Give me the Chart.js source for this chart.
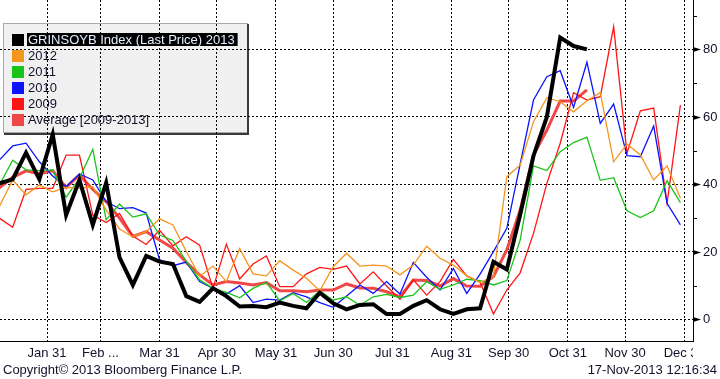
<!DOCTYPE html>
<html><head><meta charset="utf-8">
<script src="https://cdn.jsdelivr.net/npm/chart.js@4.4.0/dist/chart.umd.min.js"></script>
<style>html,body{margin:0;padding:0;background:#fff;overflow:hidden}canvas{display:block}</style>
</head><body>
<canvas id="c" width="720" height="379" style="width:720px;height:379px"></canvas>
<script>
// Weekly observation dates (2013 calendar, MM-DD)
const weekDates = ['01-06','01-13','01-20','01-27','02-03','02-10','02-17','02-24','03-03','03-10','03-17','03-24','03-31','04-07','04-14','04-21','04-28','05-05','05-12','05-19','05-26','06-02','06-09','06-16','06-23','06-30','07-07','07-14','07-21','07-28','08-04','08-11','08-18','08-25','09-01','09-08','09-15','09-22','09-29','10-06','10-13','10-20','10-27','11-03','11-10','11-17','11-24','12-01','12-08','12-15','12-22','12-29'];

const s2013 = [40.3,41.5,49.4,41.5,54.8,30.9,41.3,28.0,40.5,18.4,10.2,18.8,17.1,16.4,6.9,5.2,9.2,6.9,3.8,4.0,3.6,5.0,4.0,3.3,7.9,4.8,3.0,4.3,4.5,1.6,1.6,4.0,5.7,3.0,1.6,3.0,3.3,17.1,14.8,31.0,48.5,60.0,83.5,81.0,80.0];
const s2012 = [33.4,41.3,36.9,39.8,37.8,39.1,38.8,39.3,32.4,26.8,24.5,26.0,29.8,28.0,20.1,12.8,15.8,11.2,21.0,13.5,12.9,17.4,14.6,12.2,8.5,15.6,19.6,15.8,16.1,15.8,13.2,16.1,21.7,18.1,16.1,12.9,11.0,12.7,42.3,45.7,58.6,65.7,64.5,61.5,64.8,67.2,46.7,52.0,48.7,41.3,45.5,35.9];
const s2011 = [39.8,47.2,44.3,44.1,44.3,36.2,41.8,50.4,29.5,34.2,30.3,31.3,25.0,23.4,17.2,11.7,9.2,8.0,6.4,9.2,11.0,5.5,7.7,5.0,8.5,5.7,6.7,4.2,6.7,7.4,6.5,7.2,11.2,8.9,10.2,11.9,11.5,10.2,11.5,23.5,45.5,44.1,49.7,52.4,54.0,41.2,42.0,32.2,30.2,32.2,41.1,34.6];
const s2010 = [47.2,51.4,52.2,46.7,42.5,39.3,43.1,41.3,34.9,32.8,33.1,31.5,17.7,15.9,17.0,11.2,9.2,7.5,10.0,5.0,6.0,5.7,7.9,6.7,5.0,3.6,6.9,10.2,7.7,11.2,7.5,16.9,12.5,8.7,15.1,7.7,13.4,20.1,27.0,46.0,65.0,71.9,73.7,62.8,76.2,58.1,63.8,48.5,48.2,57.3,34.4,28.0];
const s2009 = [30.0,27.3,38.5,38.8,38.8,48.7,48.7,30.9,28.7,31.4,24.7,22.2,26.4,21.8,24.5,22.0,9.2,22.3,12.0,16.4,18.8,9.7,9.7,13.5,15.4,14.8,15.8,10.5,14.1,9.9,6.0,11.7,7.2,11.2,17.8,12.9,11.0,1.6,8.7,13.8,25.5,40.3,52.2,67.2,65.0,66.0,86.7,49.2,61.8,62.6,34.4,63.5];
const sAvg  = [39.0,42.1,44.0,43.1,44.1,39.1,42.8,38.5,34.9,30.0,24.6,26.0,23.5,21.1,16.9,13.2,10.2,11.2,10.8,10.2,10.9,8.5,8.5,8.2,8.7,8.7,10.5,9.3,9.2,8.2,6.7,11.7,11.5,9.9,12.1,9.9,9.8,12.7,20.6,32.4,48.7,56.1,64.7,64.7,68.0];

const seriesLabels = ['GRINSOYB Index (Last Price) 2013','2012','2011','2010','2009','Average [2009-2013]'];

// Axis ticks
const monthEndDates = ['01-31','02-28','03-31','04-30','05-31','06-30','07-31','08-31','09-30','10-31','11-30','12-31'];
const monthLabels = ['Jan 31','Feb ...','Mar 31','Apr 30','May 31','Jun 30','Jul 31','Aug 31','Sep 30','Oct 31','Nov 30','Dec 31'];
const yMajorTicks = [0,20,40,60,80];
const yMinorTicks = [10,30,50,70,90];

const footerLeft = 'Copyright\u00A9 2013 Bloomberg Finance L.P.';
const footerRight = '17-Nov-2013 12:16:34';

function dayOfYear(md){
  const [m,d] = md.split('-').map(Number);
  return (Date.UTC(2013,m-1,d) - Date.UTC(2013,0,0)) / 86400000;
}
const weekDays = weekDates.map(dayOfYear);
const monthEndDays = monthEndDates.map(dayOfYear);
const pts = arr => arr.map((v,i)=>({x: weekDays[i], y: v}));

const FONT = '13px "Liberation Sans", Arial, sans-serif';
const TXT = '#12122a';

const bbPlugin = {
  id: 'bb',
  beforeDraw(chart){
    const ctx = chart.ctx;
    ctx.save();
    ctx.fillStyle = '#ffffff';
    ctx.fillRect(0,0,chart.width,chart.height);
    // legend box background (grid is drawn over it)
    ctx.fillStyle = '#f0f0f0';
    ctx.fillRect(3,23,245,110);
    ctx.strokeStyle = '#a8a8a8'; ctx.lineWidth = 1;
    ctx.strokeRect(3.5,23.5,244,109);
    ctx.strokeStyle = '#3a3a3a'; ctx.lineWidth = 2;
    ctx.beginPath(); ctx.moveTo(248,24); ctx.lineTo(248,134); ctx.lineTo(4,134); ctx.stroke();
    ctx.restore();
  },
  afterDraw(chart){
    const ctx = chart.ctx;
    const ca = chart.chartArea;
    const xs = chart.scales.x, ys = chart.scales.y;
    ctx.save();
    ctx.font = FONT;
    ctx.textBaseline = 'middle';
    // legend entries
    chart.data.datasets.forEach((ds,k)=>{
      const cy = 39.5 + k*16.1;
      ctx.fillStyle = ds.legendColor || ds.borderColor;
      ctx.fillRect(12, Math.round(cy-6), 12, 12);
      if (k === 0){
        const w = ctx.measureText(ds.label).width;
        ctx.fillStyle = '#000';
        ctx.fillRect(27, Math.round(cy-6.5), w+4, 13);
        ctx.fillStyle = '#e4eeff';
      } else {
        ctx.fillStyle = TXT;
      }
      ctx.textAlign = 'left';
      ctx.fillText(ds.label, 28, cy+0.5);
    });
    // y axis markers and labels
    const ax = ca.right;
    ctx.fillStyle = '#000';
    yMajorTicks.forEach(v=>{
      const y = Math.round(ys.getPixelForValue(v)) + 0.5;
      ctx.beginPath();
      ctx.moveTo(ax, y-2.5); ctx.lineTo(ax+8, y); ctx.lineTo(ax, y+2.5); ctx.closePath();
      ctx.fill();
    });
    ctx.strokeStyle = '#000'; ctx.lineWidth = 1;
    yMinorTicks.forEach(v=>{
      const y = Math.round(ys.getPixelForValue(v)) + 0.5;
      ctx.beginPath(); ctx.moveTo(ax, y); ctx.lineTo(ax+4, y); ctx.stroke();
    });
    ctx.fillStyle = TXT;
    ctx.textAlign = 'left';
    yMajorTicks.forEach(v=>{
      ctx.fillText(String(v), ax+10, ys.getPixelForValue(v)+0.5);
    });
    // x labels, clipped at the plot's right edge
    ctx.save();
    ctx.beginPath(); ctx.rect(0, ca.bottom+1, ca.right, 24); ctx.clip();
    ctx.textAlign = 'center';
    monthEndDays.forEach((d,i)=>{
      ctx.fillText(monthLabels[i], xs.getPixelForValue(d), 353);
    });
    ctx.restore();
    // footer
    ctx.fillStyle = TXT;
    ctx.textAlign = 'left';
    ctx.fillText(footerLeft, 3, 370);
    ctx.textAlign = 'right';
    ctx.fillText(footerRight, 717, 370);
    ctx.restore();
  }
};

const lineDs = (label, data, color, width, extra) => Object.assign({
  label, data: pts(data), borderColor: color, backgroundColor: color,
  borderWidth: width, pointRadius: 0, fill: false, tension: 0
}, extra || {});

new Chart(document.getElementById('c').getContext('2d'), {
  type: 'line',
  data: {
    datasets: [
      lineDs(seriesLabels[0], s2013, '#000000', 4),
      lineDs(seriesLabels[1], s2012, '#f5951c', 1.3),
      lineDs(seriesLabels[2], s2011, '#18c418', 1.3),
      lineDs(seriesLabels[3], s2010, '#0c14ff', 1.3),
      lineDs(seriesLabels[4], s2009, '#ff1414', 1.3),
      lineDs(seriesLabels[5], sAvg, '#f04848', 3)
    ]
  },
  options: {
    responsive: false,
    animation: false,
    devicePixelRatio: 1,
    layout: { padding: 0 },
    plugins: { legend: { display: false }, tooltip: { enabled: false } },
    scales: {
      x: {
        type: 'linear', position: 'bottom', min: 6.36, max: 369.6,
        afterBuildTicks: s => { s.ticks = monthEndDays.map(v=>({value: v})); },
        afterFit: s => { s.height = 38; },
        ticks: { display: false },
        grid: { color: '#000', lineWidth: 1, drawTicks: false },
        border: { display: true, color: '#000', width: 1, dash: [2,2] }
      },
      y: {
        type: 'linear', position: 'right', min: -6.4, max: 94.64,
        afterBuildTicks: s => { s.ticks = yMajorTicks.map(v=>({value: v})); },
        afterFit: s => { s.width = 27; },
        ticks: { display: false },
        grid: { color: '#000', lineWidth: 1, drawTicks: false },
        border: { display: true, color: '#000', width: 1, dash: [2,2] }
      }
    }
  },
  plugins: [bbPlugin]
});
</script>
</body></html>
